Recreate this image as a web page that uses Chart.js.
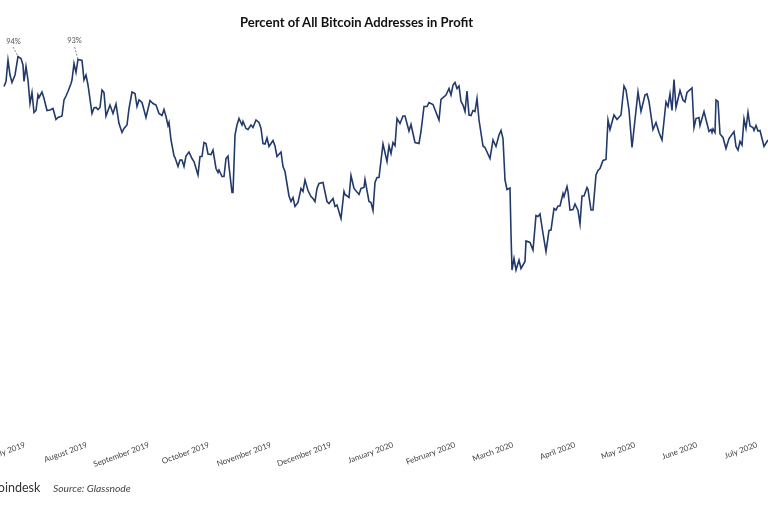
<!DOCTYPE html>
<html>
<head>
<meta charset="utf-8">
<script src="https://cdn.jsdelivr.net/npm/chart.js@4/dist/chart.umd.min.js"></script>
<style>
    html, body { margin: 0; padding: 0; background: #fff; overflow: hidden; }
    #wrap { position: relative; width: 768px; height: 512px; overflow: hidden; }
    .txt { position: absolute; white-space: nowrap; font-family: Lato, sans-serif; }
    #title { left: 240px; top: 14px; font-size: 13px; font-weight: bold; color: #111; }
    #brand { left: -8px; top: 480px; font-size: 12.5px; color: #333; }
    #source { left: 53px; top: 482px; font-size: 10.3px; font-style: italic; color: #444; }
</style>
</head>
<body>
<div id="wrap">
    <canvas id="chart" width="768" height="512"></canvas>
    <div class="txt" id="title">Percent of All Bitcoin Addresses in Profit</div>
    <div class="txt" id="brand">coindesk</div>
    <div class="txt" id="source">Source: Glassnode</div>
</div>
<script>
const monthLabels = ['July 2019', 'August 2019', 'September 2019', 'October 2019', 'November 2019', 'December 2019',
    'January 2020', 'February 2020', 'March 2020', 'April 2020', 'May 2020', 'June 2020', 'July 2020'];
// days since 1 July 2019
const monthStartDays = [0, 31, 62, 92, 123, 153, 184, 215, 244, 275, 305, 336, 366];

// [day since 1 July 2019, percent in profit]
const profitReadings = [
    [-10.5, 87.9], [-9.5, 88.9], [-8.5, 93.2], [-7.5, 90.2], [-6.5, 88.7], [-5, 90.2], [-3.5, 93.9], [-2, 93.5], [-1, 92.2], [-0.5, 88.9],
    [0.5, 91.9], [1.5, 89.2], [2.5, 84.5], [3.5, 86.7], [4.5, 82.7], [5.5, 83.1], [6.5, 86.2], [7, 85.7], [8.5, 86.8], [9.5, 85.5],
    [11, 83.1], [12.5, 83.2], [14, 83.5], [15.5, 81.3], [16.5, 81.7], [18.5, 82], [19.5, 85.2], [20.5, 86], [21.5, 86.9], [23, 88.5],
    [23.5, 89.2], [24.5, 92.5], [25.5, 90.7], [26.5, 93.3], [28.5, 93.1], [29.5, 89.2], [30.5, 90.2], [31.5, 88.2], [33.5, 82.5], [34.5, 83.6],
    [35.5, 83.7], [36.5, 83.3], [37.5, 83.7], [38.5, 87.2], [39.5, 86.7], [40.5, 82], [42.5, 84.2], [44, 82.5], [45.5, 84.4], [47, 80.5],
    [48.5, 78.7], [49.5, 79.5], [51, 80.2], [52, 83.5], [53.5, 86.8], [55, 86.5], [56, 83.9], [57, 85.2], [58.5, 84.7], [60.5, 81.7],
    [62.5, 85.1], [64, 84.5], [65.5, 84.2], [67, 82.5], [68.5, 82.1], [69.5, 83.3], [70.5, 81.9], [71.5, 80.1], [72, 80.7], [73, 77.2],
    [74.5, 74], [75, 73.7], [76.5, 71.9], [77.5, 73.2], [78.5, 73.2], [79.5, 71.9], [80.5, 74], [82, 74.8], [83.5, 73.5], [84.5, 72.9],
    [86.5, 70.2], [87.5, 73.9], [88.5, 73.9], [89.5, 76.7], [90.5, 76.5], [91.5, 74.4], [93, 74.3], [94, 75.2], [95.5, 71.5], [96.5, 70.7],
    [97, 71.2], [98.5, 69.9], [99.5, 69.9], [100.5, 73.5], [101.5, 74], [102, 71.9], [103.5, 66.7], [104, 66.7], [105, 78.2], [106, 80.2],
    [107, 81.5], [108.5, 80.2], [109, 80.9], [110.5, 79.5], [111.5, 79.3], [113, 80.2], [114, 79.7], [115.5, 81.2],
    [117, 80.7], [118, 79.5], [119, 76.5], [120, 76.4], [121, 77.6], [122, 75.9], [124, 77.1], [125, 76], [126, 73.9], [128, 74.8],
    [129, 71.9], [130, 70.9], [132, 66], [133, 64.9], [134, 65.7], [135, 63.9], [136.5, 64.7], [138, 67.5], [139, 66.9], [140, 69.2],
    [141.5, 67.1], [143, 65.9], [144, 65.5], [145, 64.9], [146, 67.5], [147, 68.5], [149, 68.7], [151, 64.9], [152, 64.5], [154, 65.5],
    [155, 63.9], [156, 64.2], [158, 61.5], [159.5, 66.9], [160, 66.3], [162, 65.7], [163, 70.1], [164.5, 67.5], [167, 66.3], [168, 67.5],
    [169.5, 67.7], [170, 69.3], [172, 64.9], [173, 64.7], [174, 63.1], [175, 68.7], [176, 69.7], [177, 69.7], [179, 76.4], [181, 72.9],
    [182, 76], [183, 74.5], [184, 76.7], [185, 76.1], [186, 81.5], [187.5, 80.5], [189, 82], [190, 82], [192, 79], [193, 80.3],
    [195, 76.7], [197, 76.5], [198, 78.9], [199.5, 83.9], [201, 83.9], [202, 84.7], [204, 84.3], [207, 81.2], [208, 85.3], [210.5, 86.2],
    [212, 87.5], [213, 86.2], [214, 88.2], [215, 88.7], [216, 87.5], [217, 88], [218, 84.9], [219, 84.2], [220, 82.9], [221, 87],
    [222, 82.2], [223, 82.1], [224, 83.1], [225, 82.9], [226, 85.5], [227, 81.2], [229, 76], [230, 75.7], [232.5, 73.5], [234, 77.2],
    [235.5, 75.9], [237, 78.2], [238, 79.1], [239, 77.5], [240, 69.2], [241, 67.3], [242.5, 67.6], [243, 58.5],
    [243.5, 51.2], [244.5, 53.5], [245.5, 51.2], [247, 53.2], [248, 51.5], [250, 52.9], [250.5, 57], [252.5, 56.7], [254, 55.2], [255.5, 62.1],
    [256.5, 61.9], [257.5, 62.4], [259, 58.5], [260.5, 54.9], [262, 59.1], [263, 59.2], [264.5, 63.5], [265.5, 63.2], [266.5, 64], [267.5, 64],
    [269, 66.5], [269.5, 65.9], [271, 67.9], [271.5, 66.9], [272.5, 63.2], [274, 63.3], [275, 64.4], [276.5, 63.1], [277.5, 60.4], [278.5, 66],
    [279.5, 66], [281, 67.7], [281.5, 67.3], [283, 63.2], [284, 63.2], [285.5, 70.2], [286.5, 71.1], [287.5, 71.5], [289, 73.1], [290.5, 73.3],
    [291.5, 81.2], [292.5, 79.3], [294.5, 82.2], [296, 81.3], [298, 82.2], [299.5, 88], [300.5, 87.2], [302, 83.2], [303.5, 75.7], [306.5, 86.8],
    [308, 82.9], [310, 86.2], [311, 86.4], [312, 84.9], [314, 79.3], [315.5, 80.7], [317, 78.7], [318.5, 77.2], [320.5, 84.8], [321.5, 83.9],
    [322.5, 86.4], [323.5, 83.1], [324.5, 89.3], [325.5, 83.7], [327.5, 87.1], [329, 85.2], [330, 84.8], [331, 86.7], [333.5, 87.6], [334.5, 79.7],
    [335.5, 81.5], [337, 81.7], [337.5, 80.1], [339.5, 82.9], [340.5, 81.3], [342, 78.9], [343, 79.3], [343.5, 78.7], [344, 79.4], [345, 78.7],
    [345.5, 85.2], [346.5, 84.9], [347.5, 78.4], [349, 77.7], [350.5, 75.5], [352, 77.5], [354.5, 78.9], [355.5, 75.9], [356.5, 75.2], [357.5, 76.9],
    [358.5, 76.2], [359.5, 81.4], [360.5, 79.5], [361.5, 82.7], [362.5, 80], [364, 79.7], [364.5, 79.1], [365.5, 80.1], [366.5, 79], [367.5, 79.1],
    [369.5, 75.9], [371.5, 77.2]
];

// the two peak call-outs: label, where the text sits, and the leader line down to the peak
const calloutTexts = ['94%', '93%'];
const calloutTextAt = [[-5.75, 96.8], [24.75, 97]];
const calloutLeaders = [
    [[-6, 95.8], [-3.5, 93.9]],
    [[24.75, 95.8], [26.5, 93.3]]
];

const leaderDatasets = calloutLeaders.map(pts => ({
    data: pts.map(([x, y]) => ({ x, y })),
    borderColor: '#555',
    borderWidth: 0.7,
    borderDash: [2, 1.5],
    pointRadius: 0
}));

const calloutPlugin = {
    id: 'callouts',
    afterDatasetsDraw(chart) {
        const { ctx, scales } = chart;
        ctx.save();
        ctx.font = '7.5px Lato, sans-serif';
        ctx.fillStyle = '#555';
        ctx.textAlign = 'center';
        ctx.textBaseline = 'middle';
        calloutTexts.forEach((t, i) => {
            ctx.fillText(t, scales.x.getPixelForValue(calloutTextAt[i][0]), scales.y.getPixelForValue(calloutTextAt[i][1]));
        });
        ctx.restore();
    }
};

new Chart(document.getElementById('chart').getContext('2d'), {
    type: 'line',
    data: {
        datasets: [{
            data: profitReadings.map(([x, y]) => ({ x, y })),
            borderColor: '#22396b',
            borderWidth: 1.6,
            pointRadius: 0,
            tension: 0
        }, ...leaderDatasets]
    },
    options: {
        responsive: false,
        animation: false,
        layout: { padding: 0 },
        plugins: {
            legend: { display: false },
            tooltip: { enabled: false }
        },
        scales: {
            x: {
                type: 'linear',
                min: -12.5,
                max: 371.5,
                grid: { display: false },
                border: { display: false },
                afterBuildTicks(scale) {
                    scale.ticks = monthStartDays.map(value => ({ value }));
                },
                afterFit(scale) {
                    scale.height = 76;
                    scale.paddingLeft = 0;
                    scale.paddingRight = 0;
                },
                ticks: {
                    autoSkip: false,
                    minRotation: 20,
                    maxRotation: 20,
                    padding: -4,
                    color: '#444',
                    font: { family: 'Lato, sans-serif', size: 8 },
                    callback: (value, index) => monthLabels[index]
                }
            },
            y: {
                display: false,
                min: 18,
                max: 105.2
            }
        }
    },
    plugins: [calloutPlugin]
});
</script>
</body>
</html>
